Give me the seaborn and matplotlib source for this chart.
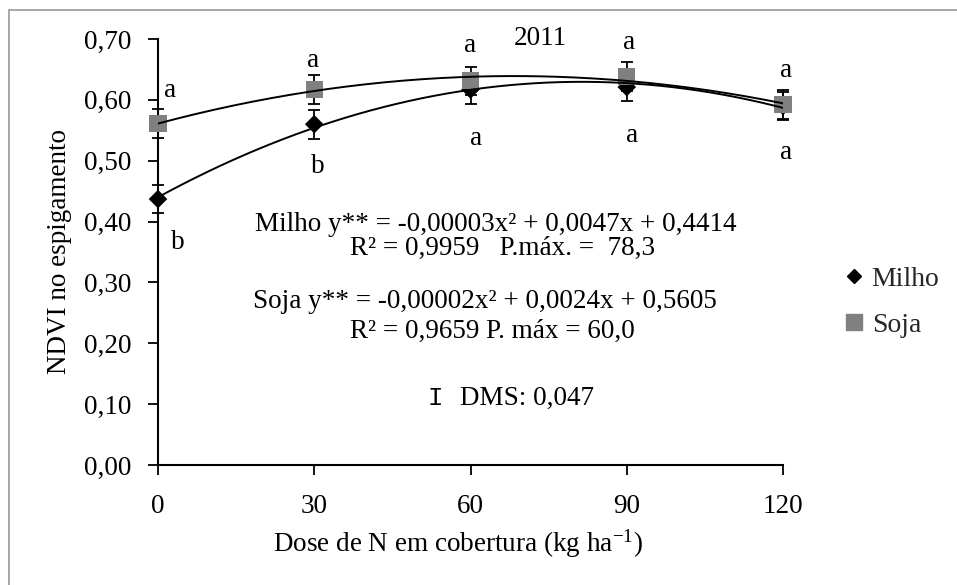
import numpy as np
import pandas as pd
import matplotlib
matplotlib.use("Agg")
import matplotlib.pyplot as plt
import seaborn as sns
from matplotlib.lines import Line2D
from matplotlib.patches import Rectangle

# ---- data ----
doses = [0, 30, 60, 90, 120]
milho = [0.437, 0.560, 0.617, 0.621, 0.590]
soja = [0.561, 0.617, 0.631, 0.638, 0.592]
dms = 0.047
milho_letters = ["b", "b", "a", "a", "a"]
soja_letters = ["a", "a", "a", "a", "a"]
yticks = [0.0, 0.1, 0.2, 0.3, 0.4, 0.5, 0.6, 0.7]
xticks = [0, 30, 60, 90, 120]

sns.set_theme(style="white")
plt.rcParams["font.family"] = ["Liberation Serif", "DejaVu Serif"]
plt.rcParams["mathtext.fontset"] = "custom"
plt.rcParams["mathtext.rm"] = "Liberation Serif"
plt.rcParams["mathtext.it"] = "Liberation Serif:italic"

W, H = 957, 585
fig = plt.figure(figsize=(W / 100, H / 100), dpi=100)
ax = fig.add_axes([158 / W, (H - 465) / H, (783 - 158) / W, (465 - 39) / H])

FS = 19.5

df_m = pd.DataFrame({"dose": doses, "ndvi": milho, "serie": "Milho"})
df_s = pd.DataFrame({"dose": doses, "ndvi": soja, "serie": "Soja"})

# fitted quadratic trend lines
xs = np.linspace(0, 120, 200)
cm = np.polyfit(doses, milho, 2)
cs = np.polyfit(doses, soja, 2)
fit = pd.DataFrame({
    "dose": np.concatenate([xs, xs]),
    "ndvi": np.concatenate([np.polyval(cm, xs), np.polyval(cs, xs)]),
    "serie": ["Milho"] * len(xs) + ["Soja"] * len(xs),
})

# error bars
for vals in (milho, soja):
    ax.errorbar(doses, vals, yerr=dms / 2, fmt="none", ecolor="black",
                elinewidth=1.3, capsize=4.5, capthick=1.3, clip_on=False, zorder=2)

sns.scatterplot(data=df_m, x="dose", y="ndvi", color="black", marker="D",
                s=90, edgecolor="none", legend=False, ax=ax, zorder=3, clip_on=False)
sns.scatterplot(data=df_s, x="dose", y="ndvi", color="#808080", marker="s",
                s=150, edgecolor="none", legend=False, ax=ax, zorder=3, clip_on=False)
sns.lineplot(data=fit, x="dose", y="ndvi", units="serie", estimator=None,
             color="black", linewidth=1.4, legend=False, ax=ax, zorder=4)

ax.set_xlim(0, 120)
ax.set_ylim(0, 0.7)
ax.set_xticks(xticks)
ax.set_yticks(yticks)
ax.set_yticklabels([f"{v:.2f}".replace(".", ",") for v in yticks], fontsize=FS)
ax.set_xticklabels([str(v) for v in xticks], fontsize=FS)
for s in ("top", "right"):
    ax.spines[s].set_visible(False)
for s in ("left", "bottom"):
    ax.spines[s].set_color("black")
    ax.spines[s].set_linewidth(1.5)
ax.tick_params(axis="both", direction="out", length=7, width=1.3, color="black",
               labelcolor="black", bottom=True, left=True)
ax.tick_params(axis="y", pad=12)
ax.tick_params(axis="x", pad=14)
ax.set_xlabel("")
ax.set_ylabel("")

# letters
soja_pos = [(2.3, 0.616), (29.8, 0.664), (59.9, 0.690), (90.4, 0.695), (120.6, 0.649)]
milho_pos = [(3.8, 0.366), (30.7, 0.490), (61.1, 0.536), (91.0, 0.541), (120.6, 0.514)]
for (x, y), t in zip(soja_pos, soja_letters):
    ax.text(x, y, t, ha="center", va="center", fontsize=FS, color="black")
for (x, y), t in zip(milho_pos, milho_letters):
    ax.text(x, y, t, ha="center", va="center", fontsize=FS, color="black")


def ftext(px, py, s, **kw):
    fig.text(px / W, 1 - py / H, s, fontsize=FS, color="black", **kw)


ftext(540, 45, "2011", ha="center", va="baseline")
ftext(255, 231, "Milho y** = -0,00003x² + 0,0047x + 0,4414", ha="left", va="baseline")
ftext(350, 255, "R² = 0,9959   P.máx. =  78,3", ha="left", va="baseline")
ftext(253, 308, "Soja y** = -0,00002x² + 0,0024x + 0,5605", ha="left", va="baseline")
ftext(350, 338, "R² = 0,9659 P. máx = 60,0", ha="left", va="baseline")
fig.text(427 / W, 1 - 405 / H, "I", fontsize=FS - 1, family="Liberation Mono",
         ha="left", va="baseline", color="black")
ftext(460, 405, "DMS: 0,047", ha="left", va="baseline")

ftext(458, 552, "Dose de N em cobertura (kg ha$^{-1}$)", ha="center", va="baseline")
ftext(60, 251, "NDVI no espigamento", ha="center", va="center", rotation=90)

# legend
handles = [Line2D([], [], marker="D", color="black", linestyle="none", markersize=7.5),
           Line2D([], [], marker="s", color="#808080", linestyle="none", markersize=12)]
fig.legend(handles, ["Milho", "Soja"], loc="center left",
           bbox_to_anchor=(830 / W, 1 - 302 / H), frameon=False, fontsize=FS + 0.5,
           handlelength=0.7, handletextpad=0.3, labelspacing=0.75, borderpad=0)

# chart area border
fig.add_artist(Rectangle((9 / W, -0.1), 1.2, 1.1 - 10 / H, transform=fig.transFigure,
                         fill=False, edgecolor="#a0a0a0", linewidth=1.3))

fig.savefig("out.png", dpi=100)
